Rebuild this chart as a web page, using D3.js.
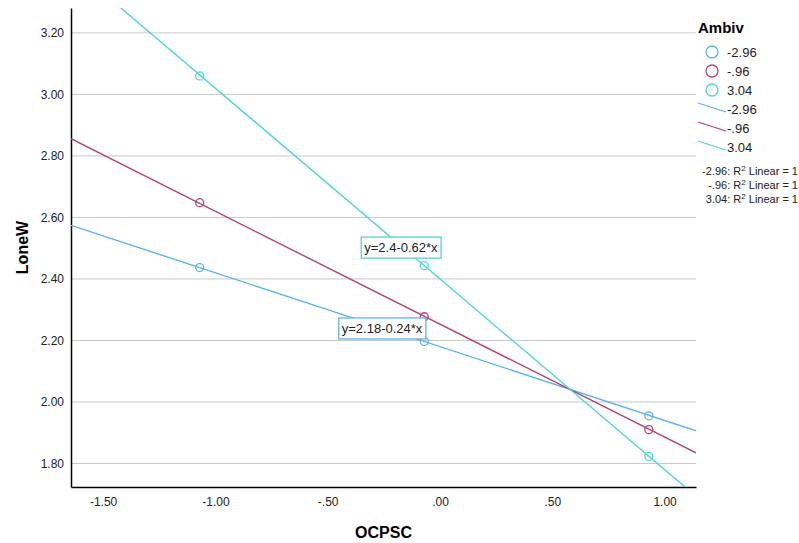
<!DOCTYPE html>
<html>
<head>
<meta charset="utf-8">
<script src="https://cdn.jsdelivr.net/npm/d3@7"></script>
<style>
  body { margin: 0; background: #fff; }
  svg { font-family: "Liberation Sans", Arial, sans-serif; }
</style>
</head>
<body>
<div id="chart"></div>
<script>
// values
const groups = ["-2.96", "-.96", "3.04"];
const colors = ["#5ab4ef", "#b3466f", "#4fd6d6"];
const pointX = [-1.07, -0.07, 0.93];
const pointY = [
  [2.437, 2.197, 1.955],
  [2.648, 2.277, 1.910],
  [3.060, 2.443, 1.823]
];
const intercepts = [2.18, 2.253, 2.4];
const slopes = [-0.24, -0.367, -0.62];
const fitLabels = ["y=2.18-0.24*x", null, "y=2.4-0.62*x"];
const fitLabelPos = [[-0.258, 2.239], null, [-0.174, 2.502]];
const xTicks = [-1.5, -1.0, -0.5, 0, 0.5, 1.0];
const yTicks = [1.8, 2.0, 2.2, 2.4, 2.6, 2.8, 3.0, 3.2];

const W = 799, H = 543;
const plotBox = { left: 71, right: 696, top: 8, bottom: 487 };

const svg = d3.select("#chart").append("svg")
  .attr("width", W)
  .attr("height", H);

const x = d3.scaleLinear().domain([-1.643, 1.140]).range([plotBox.left, plotBox.right]);
const y = d3.scaleLinear().domain([1.7235, 3.281]).range([plotBox.bottom, plotBox.top]);

// SPSS style: no leading zero, plain hyphen
const fmt = d => d.toFixed(2).replace(/^(-?)0\./, "$1.");

// gridlines
svg.append("g")
  .selectAll("line")
  .data(yTicks)
  .join("line")
  .attr("x1", plotBox.left).attr("x2", plotBox.right)
  .attr("y1", d => y(d)).attr("y2", d => y(d))
  .attr("stroke", "#c8c8c8")
  .attr("stroke-width", 1);

// axes (no tick marks)
const xAxis = svg.append("g")
  .attr("transform", `translate(0,${plotBox.bottom})`)
  .call(d3.axisBottom(x).tickValues(xTicks).tickFormat(fmt).tickSize(0).tickPadding(10));
const yAxis = svg.append("g")
  .attr("transform", `translate(${plotBox.left},0)`)
  .call(d3.axisLeft(y).tickValues(yTicks).tickFormat(fmt).tickSize(0).tickPadding(7));
[xAxis, yAxis].forEach(a => {
  a.select(".domain").attr("stroke", "#000").attr("stroke-width", 1.5);
  a.selectAll("text")
    .style("font-family", "Liberation Sans, Arial, sans-serif")
    .style("font-size", "12px")
    .attr("fill", "#222");
});

// clip for fit lines
svg.append("defs").append("clipPath").attr("id", "plot")
  .append("rect")
  .attr("x", plotBox.left).attr("y", plotBox.top)
  .attr("width", plotBox.right - plotBox.left).attr("height", plotBox.bottom - plotBox.top);

const xd = x.domain();
const plot = svg.append("g").attr("clip-path", "url(#plot)");
groups.forEach((g, i) => {
  plot.append("line")
    .attr("x1", x(xd[0])).attr("y1", y(intercepts[i] + slopes[i] * xd[0]))
    .attr("x2", x(xd[1])).attr("y2", y(intercepts[i] + slopes[i] * xd[1]))
    .attr("stroke", colors[i])
    .attr("stroke-width", 1.4);
});
groups.forEach((g, i) => {
  svg.append("g")
    .selectAll("circle")
    .data(pointX.map((px, j) => ({ x: px, y: pointY[i][j] })))
    .join("circle")
    .attr("cx", d => x(d.x))
    .attr("cy", d => y(d.y))
    .attr("r", 4)
    .attr("fill", "none")
    .attr("stroke", colors[i])
    .attr("stroke-width", 1.3);
});

// fit labels
fitLabels.forEach((t, i) => {
  if (!t) return;
  const cx = x(fitLabelPos[i][0]), cy = y(fitLabelPos[i][1]);
  const lab = svg.append("g");
  const txt = lab.append("text")
    .attr("x", cx).attr("y", cy)
    .attr("text-anchor", "middle")
    .attr("dominant-baseline", "central")
    .style("font-size", "13px")
    .attr("fill", "#222")
    .text(t);
  const bb = txt.node().getBBox();
  lab.insert("rect", "text")
    .attr("x", bb.x - 3).attr("y", cy - 10.5)
    .attr("width", bb.width + 6).attr("height", 21)
    .attr("fill", "#fff")
    .attr("stroke", colors[i])
    .attr("stroke-width", 1.3);
});

// axis titles
svg.append("text")
  .attr("x", (plotBox.left + plotBox.right) / 2).attr("y", 538)
  .attr("text-anchor", "middle")
  .style("font-size", "16px").style("font-weight", "bold")
  .text("OCPSC");
svg.append("text")
  .attr("transform", `translate(28,${(plotBox.top + plotBox.bottom) / 2}) rotate(-90)`)
  .attr("text-anchor", "middle")
  .style("font-size", "16px").style("font-weight", "bold")
  .text("LoneW");

// legend
const legend = svg.append("g");
legend.append("text")
  .attr("x", 698).attr("y", 33)
  .style("font-size", "15px").style("font-weight", "bold")
  .text("Ambiv");
groups.forEach((g, i) => {
  const cy = 52 + i * 19;
  legend.append("circle")
    .attr("cx", 712).attr("cy", cy).attr("r", 6)
    .attr("fill", "none").attr("stroke", colors[i]).attr("stroke-width", 1.3);
  legend.append("text")
    .attr("x", 727).attr("y", cy).attr("dominant-baseline", "central")
    .style("font-size", "13px").attr("fill", "#222")
    .text(g);
});
groups.forEach((g, i) => {
  const cy = 109 + i * 19;
  legend.append("line")
    .attr("x1", 698).attr("y1", cy - 6)
    .attr("x2", 726).attr("y2", cy + 3)
    .attr("stroke", colors[i]).attr("stroke-width", 1.3);
  legend.append("text")
    .attr("x", 727).attr("y", cy).attr("dominant-baseline", "central")
    .style("font-size", "13px").attr("fill", "#222")
    .text(g);
});
groups.forEach((g, i) => {
  const t = legend.append("text")
    .attr("x", 798).attr("y", 175 + i * 14)
    .attr("text-anchor", "end")
    .style("font-size", "11px").attr("fill", "#222");
  t.append("tspan").text(g + ": R");
  t.append("tspan").attr("dy", -4).style("font-size", "8px").text("2");
  t.append("tspan").attr("dy", 4).text(" Linear = 1");
});
</script>
</body>
</html>
